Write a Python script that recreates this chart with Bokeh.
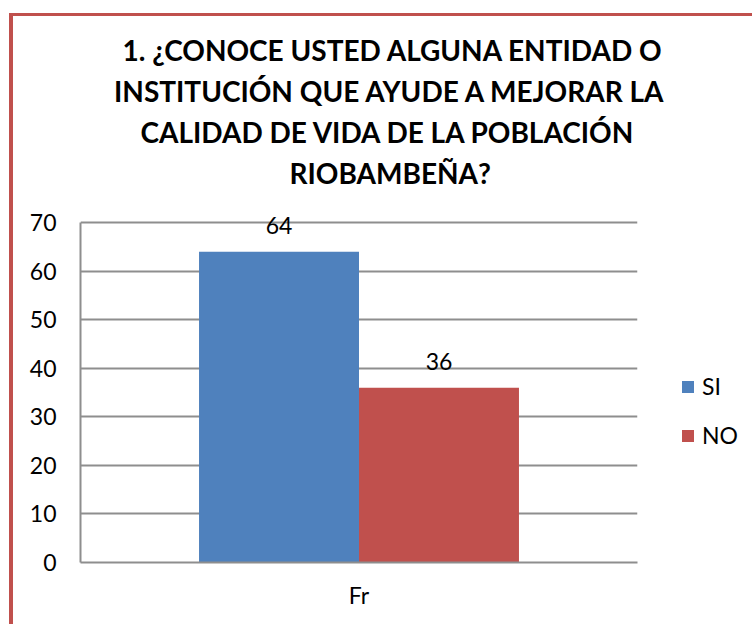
from bokeh.plotting import figure
from bokeh.models import (FactorRange, ColumnDataSource, LabelSet, Legend, LegendItem,
                          Title, Range1d, FixedTicker)
from bokeh.core.properties import value
from bokeh.transform import dodge
from bokeh.embed import file_html
from bokeh.resources import INLINE

# ---- data ----
categories = ["Fr"]
series = ["SI", "NO"]
values = [64, 36]
colors = ["#4F81BD", "#C0504D"]
title_lines = [
    "1. ¿CONOCE USTED ALGUNA ENTIDAD O",
    "INSTITUCIÓN QUE AYUDE A MEJORAR LA",
    "CALIDAD DE VIDA DE LA POBLACIÓN",
    "RIOBAMBEÑA?",
]
y_ticks = [0, 10, 20, 30, 40, 50, 60, 70]
y_max = 70

FONT = "Lato"
GRID = "#8E8E8E"

FRAME_H = 354
px_per_unit = 340 / y_max
p = figure(x_range=FactorRange(factors=categories, range_padding=0),
           y_range=Range1d(0, FRAME_H / px_per_unit),
           width=739, height=608,
           frame_width=557, frame_height=FRAME_H,
           min_border_left=67, min_border_right=115,
           min_border_top=192, min_border_bottom=62,
           output_backend="svg", toolbar_location=None)
p.styles = {"border-left": "4px solid #C0504D", "border-top": "3px solid #C0504D",
            "margin-top": "13px", "margin-left": "9px"}

offsets = [-0.1436, 0.1436]
bar_w = 0.2872
items = []
for name, val, col, off in zip(series, values, colors, offsets):
    src = ColumnDataSource(dict(x=categories, y=[val], lbl=[str(val)]))
    r = p.vbar(x=dodge("x", off, range=p.x_range), top="y", width=bar_w, source=src,
               fill_color=col, line_color=None)
    items.append(LegendItem(label=name, renderers=[r]))
    p.add_layout(LabelSet(x=dodge("x", off, range=p.x_range), y="y", text="lbl", source=src,
                          text_align="center", text_baseline="alphabetic", y_offset=18,
                          text_font=value(FONT), text_font_size=value("23px"),
                          text_color="#000000"))

# spacer between title block and frame
p.add_layout(Title(text=" ", text_font_size="1px", standoff=13), "above")
# titles (closest to frame first), left aligned with offsets to centre them near x=387
title_offsets = [42, 33.5, 60, 209]
for line, off in zip(reversed(title_lines), reversed(title_offsets)):
    p.add_layout(Title(text=line, align="left", offset=off, text_font=FONT,
                       text_font_size="28px", text_font_style="bold",
                       text_color="#000000", standoff=5), "above")

p.ygrid.ticker = FixedTicker(ticks=y_ticks)
p.yaxis.ticker = FixedTicker(ticks=y_ticks)
p.yaxis.bounds = (0, y_max)
p.ygrid.grid_line_color = GRID
p.ygrid.grid_line_width = 2
p.xgrid.grid_line_color = None
p.outline_line_color = None

for ax in (p.xaxis[0], p.yaxis[0]):
    ax.axis_line_color = GRID
    ax.axis_line_width = 2
    ax.major_tick_in = 0
    ax.major_tick_out = 0
    ax.minor_tick_line_color = None
    ax.major_label_text_font = FONT
    ax.major_label_text_font_size = "23px"
    ax.major_label_text_color = "#000000"
p.yaxis.major_label_standoff = 24
p.xaxis.major_label_standoff = 18

legend = Legend(items=items, location=(43, 113), orientation="vertical",
                padding=0, margin=0, border_line_color=None, background_fill_alpha=0,
                glyph_width=15, glyph_height=15, label_height=26, spacing=21,
                label_standoff=7, label_text_font=FONT, label_text_font_size="23px",
                label_text_color="#000000")
p.add_layout(legend, "right")

open("out.html", "w").write(file_html(p, INLINE))
